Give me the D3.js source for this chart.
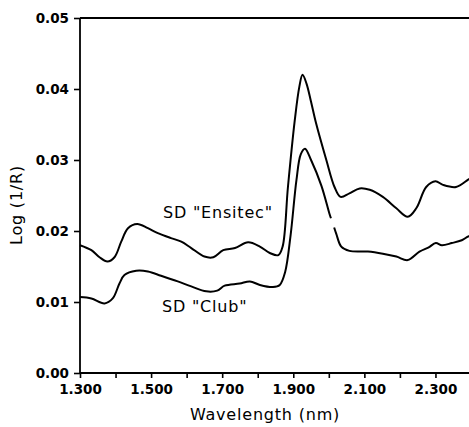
<!DOCTYPE html>
<html>
<head>
<meta charset="utf-8">
<script src="https://cdn.jsdelivr.net/npm/d3@7"></script>
<style>
  body { margin: 0; background: #fff; }
  svg text { font-family: "DejaVu Sans", sans-serif; fill: #000; }
</style>
</head>
<body>
<div id="chart"></div>
<script>
// spectra
var ensitecWl = [1.300, 1.332, 1.355, 1.377, 1.397, 1.416, 1.435, 1.461, 1.491, 1.519,
  1.556, 1.585, 1.613, 1.650, 1.675, 1.703, 1.736, 1.773, 1.806, 1.834,
  1.858, 1.870, 1.885, 1.904, 1.917, 1.926, 1.937, 1.950, 1.964, 1.993,
  2.016, 2.033, 2.058, 2.087, 2.115, 2.152, 2.190, 2.222, 2.246, 2.274,
  2.300, 2.321, 2.358, 2.391, 2.400];
var ensitecVal = [0.0180, 0.0173, 0.0163, 0.0157, 0.0163, 0.0185, 0.0204, 0.0210, 0.0204, 0.0197,
  0.0190, 0.0185, 0.0176, 0.0164, 0.0163, 0.0173, 0.0176, 0.0184, 0.0178, 0.0169,
  0.0166, 0.0178, 0.0262, 0.0355, 0.0403, 0.0420, 0.0408, 0.0382, 0.0352, 0.0300,
  0.0262, 0.0248, 0.0253, 0.0260, 0.0258, 0.0248, 0.0232, 0.0220, 0.0232, 0.0262,
  0.0270, 0.0265, 0.0262, 0.0272, 0.0275];

var clubWl = [1.300, 1.332, 1.369, 1.392, 1.411, 1.425, 1.458, 1.491, 1.528, 1.575,
  1.613, 1.655, 1.686, 1.707, 1.749, 1.778, 1.806, 1.843, 1.862, 1.877,
  1.892, 1.909, 1.921, 1.933, 1.950, 1.979, 2.002, 2.006, 2.010,
  2.015, 2.021, 2.035, 2.058, 2.110, 2.152, 2.190, 2.222, 2.255, 2.281,
  2.301, 2.318, 2.346, 2.374, 2.391, 2.400];
var clubVal = [0.0107, 0.0105, 0.0098, 0.0105, 0.0126, 0.0138, 0.0144, 0.0143, 0.0137, 0.0129,
  0.0122, 0.0115, 0.0116, 0.0123, 0.0126, 0.0129, 0.0124, 0.0121, 0.0124, 0.0142,
  0.0192, 0.0272, 0.0308, 0.0316, 0.0300, 0.0264, 0.0224, 0.0218, null,
  0.0205, 0.0196, 0.0178, 0.0172, 0.0171, 0.0168, 0.0164, 0.0159, 0.0171, 0.0177,
  0.0183, 0.0180, 0.0183, 0.0187, 0.0192, 0.0194];

var xTicks = [1.3, 1.4, 1.5, 1.6, 1.7, 1.8, 1.9, 2.0, 2.1, 2.2, 2.3];
var xTickLabels = ["1.300", "1.500", "1.700", "1.900", "2.100", "2.300"];
var yTicks = [0, 0.01, 0.02, 0.03, 0.04, 0.05];

var svgWidth = 469;
var svgHeight = 427;

var svg = d3.select("#chart")
  .append("svg")
  .attr("width", svgWidth)
  .attr("height", svgHeight);

var x = d3.scaleLinear().domain([1.3, 2.4]).range([80, 471]);
var y = d3.scaleLinear().domain([0, 0.05]).range([373, 18]);

// x axis: ticks every 0.1, labels every 0.2
var xAxis = d3.axisBottom(x)
  .tickValues(xTicks)
  .tickSize(5)
  .tickFormat(d => {
    var s = d.toFixed(3);
    return xTickLabels.indexOf(s) >= 0 ? s : "";
  });

svg.append("g")
  .attr("transform", "translate(0,373)")
  .call(xAxis)
  .call(g => g.select(".domain").remove())
  .call(g => g.selectAll("line").attr("stroke", "#000").attr("stroke-width", 1.6))
  .call(g => g.selectAll("text")
    .attr("font-size", "13.5px")
    .attr("font-weight", "bold")
    .attr("dy", "0.7em")
    .attr("y", 12));

var yAxis = d3.axisLeft(y)
  .tickValues(yTicks)
  .tickSize(6)
  .tickFormat(d3.format(".2f"));

svg.append("g")
  .attr("transform", "translate(80,0)")
  .call(yAxis)
  .call(g => g.select(".domain").remove())
  .call(g => g.selectAll("line").attr("stroke", "#000").attr("stroke-width", 1.6))
  .call(g => g.selectAll("text")
    .attr("font-size", "13.5px")
    .attr("font-weight", "bold")
    .attr("x", -11));

// frame: left, bottom and top lines
svg.append("line")
  .attr("x1", 80).attr("x2", 80).attr("y1", 18).attr("y2", 373)
  .attr("stroke", "#000").attr("stroke-width", 1.8);
svg.append("line")
  .attr("x1", 80).attr("x2", svgWidth).attr("y1", 373).attr("y2", 373)
  .attr("stroke", "#000").attr("stroke-width", 1.8);
svg.append("line")
  .attr("x1", 80).attr("x2", svgWidth).attr("y1", 18).attr("y2", 18)
  .attr("stroke", "#000").attr("stroke-width", 1.8);

// curves
var line = d3.line()
  .defined(d => d[1] !== null)
  .x(d => x(d[0]))
  .y(d => y(d[1]))
  .curve(d3.curveCatmullRom.alpha(0.5));

var plot = svg.append("g");

plot.append("path")
  .datum(ensitecWl.map((w, i) => [w, ensitecVal[i]]))
  .attr("d", line)
  .attr("fill", "none")
  .attr("stroke", "#000")
  .attr("stroke-width", 2);

plot.append("path")
  .datum(clubWl.map((w, i) => [w, clubVal[i]]))
  .attr("d", line)
  .attr("fill", "none")
  .attr("stroke", "#000")
  .attr("stroke-width", 2);

// series labels
svg.append("text")
  .attr("x", 163)
  .attr("y", 218)
  .attr("font-size", "16px")
  .attr("letter-spacing", "0.8px")
  .text("SD \"Ensitec\"");

svg.append("text")
  .attr("x", 162)
  .attr("y", 312)
  .attr("font-size", "16px")
  .attr("letter-spacing", "0.8px")
  .text("SD \"Club\"");

// axis titles
svg.append("text")
  .attr("x", 265)
  .attr("y", 420)
  .attr("text-anchor", "middle")
  .attr("font-size", "16px")
  .attr("letter-spacing", "0.8px")
  .text("Wavelength (nm)");

svg.append("text")
  .attr("transform", "translate(22,205) rotate(-90)")
  .attr("text-anchor", "middle")
  .attr("font-size", "16px")
  .attr("letter-spacing", "0.8px")
  .text("Log (1/R)");
</script>
</body>
</html>
